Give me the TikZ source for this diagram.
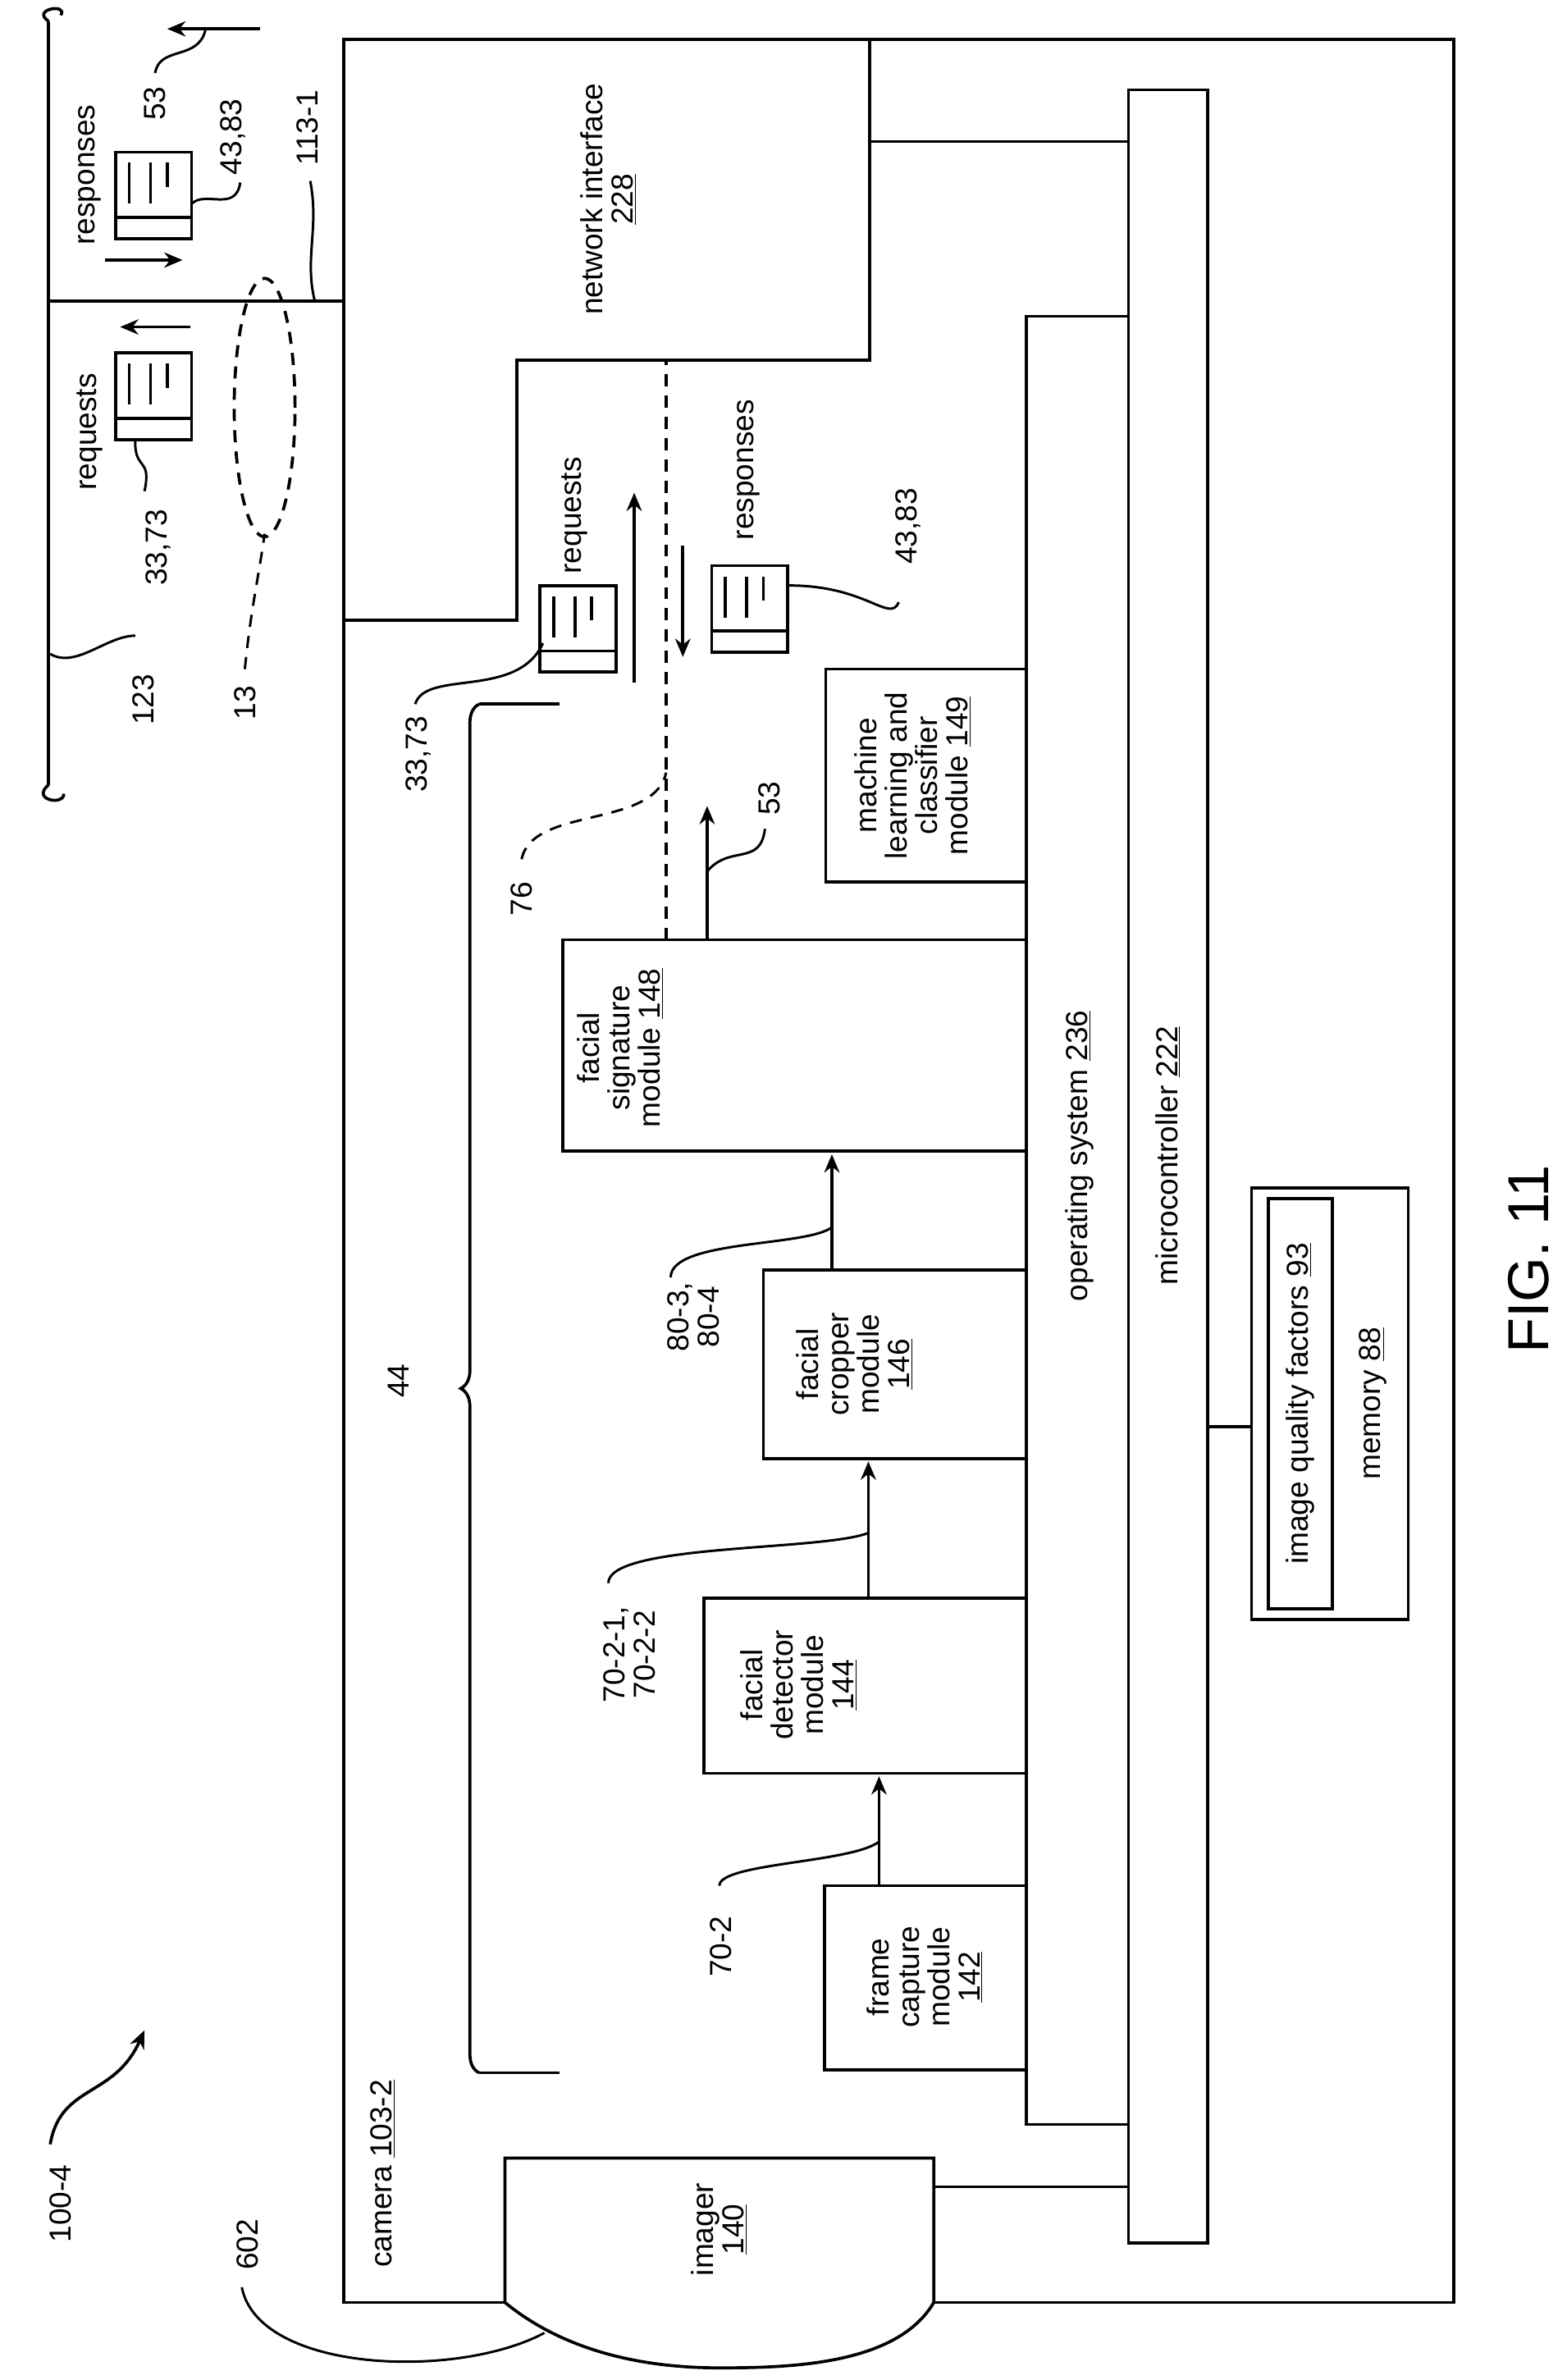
\documentclass[tikz,border=0pt]{standalone}
\usepackage{fontspec}
\setmainfont{Liberation Sans}
\usetikzlibrary{decorations.pathreplacing,shapes,arrows,arrows.meta,positioning}
\tikzset{
  every picture/.style={line width=2pt},
  lbl/.style={rotate=90,font=\fontsize{20}{20}\selectfont,align=center,inner sep=1pt},
  blk/.style={draw,fill=white},
  ar/.style={-{Stealth[length=12pt,width=10pt]}},
  lead/.style={line width=1.6pt},
  dsh/.style={dash pattern=on 8pt off 6pt}
}
% document icon: #1,#2 = top-left corner
\newcommand{\docicon}[2]{%
  \draw[fill=white] (#1,#2) rectangle ++(50,57);
  \draw (#1,#2+43) -- ++(50,0);
  \draw (#1+9,#2+7) -- ++(0,27) (#1+23,#2+7) -- ++(0,27) (#1+34,#2+7) -- ++(0,16);}
\begin{document}
\begin{tikzpicture}[x=1pt,y=-1pt]
\useasboundingbox (0,0) rectangle (1030,1565);
% camera frame
\draw (226,26) rectangle (956,1514);
\node[lbl,anchor=south west] (cam) at (262,1493) {camera \underline{103-2}};
% network interface
\draw (572,26) -- (572,237) -- (340,237) -- (340,408) -- (226,408);
\node[lbl] (ni) at (400,131) {network interface\\\underline{228}};
% bars
\draw[blk] (742,59) rectangle (794,1475);
\node[lbl] (mc) at (768,760) {microcontroller \underline{222}};
\draw[blk] (675,208) rectangle (742,1397);
\node[lbl] (os) at (710,760) {operating system \underline{236}};
\draw (572,93) -- (742,93);
% modules
\draw[blk] (542,1240) rectangle (675,1361);
\node[lbl] (fc) at (608,1300) {frame\\capture\\module\\\underline{142}};
\draw[blk] (463,1051) rectangle (675,1166);
\node[lbl] (fd) at (525,1108) {facial\\detector\\module\\\underline{144}};
\draw[blk] (502,835) rectangle (675,959);
\node[lbl] (fcr) at (562,897) {facial\\cropper\\module\\\underline{146}};
\draw[blk] (370,618) rectangle (675,757);
\node[lbl] (fs) at (408,689) {facial\\signature\\module \underline{148}};
\draw[blk] (543,440) rectangle (675,580);
\node[lbl] (ml) at (600,510) {machine\\learning and\\classifier\\module \underline{149}};
% memory
\draw (823,781) rectangle (926,1065);
\draw (834,788) rectangle (876,1058);
\node[lbl] (iq) at (855,923) {image quality factors \underline{93}};
\node[lbl] (mem) at (903,923) {memory \underline{88}};
\draw (794,938) -- (823,938);
% imager
\draw[fill=white] (332,1514) -- (332,1419) -- (614,1419) -- (614,1514) .. controls (590,1555) and (520,1557) .. (473,1557) .. controls (420,1557) and (370,1545) .. (332,1514);
\node[lbl] (im) at (473,1466) {imager\\\underline{140}};
\draw (614,1438) -- (742,1438);
% flow arrows
\draw[ar] (578,1240) -- (578,1168);
\draw[ar] (571,1051) -- (571,961);
\draw[ar] (547,835) -- (547,759);
\node[lbl] (l702) at (474,1280) {70-2};
\draw[lead] (473,1240) .. controls (473,1225) and (560,1225) .. (578,1211);
\node[lbl] (l7021) at (414,1088) {70-2-1,\\70-2-2};
\draw[lead] (400,1041) .. controls (400,1015) and (540,1020) .. (571,1008);
\node[lbl] (l803) at (456,866) {80-3,\\80-4};
\draw[lead] (441,840) .. controls (441,815) and (530,820) .. (547,807);
% dashed 76 and 53
\draw[dsh] (438,618) -- (438,237);
\node[lbl] (l76) at (343,591) {76};
\draw[lead,dsh] (343,565) .. controls (350,530) and (430,545) .. (438,508);
\draw[ar] (465,618) -- (465,530);
\node[lbl] (l53) at (506,525) {53};
\draw[lead] (465,573) .. controls (480,555) and (500,570) .. (503,545);
% requests / responses inside
\docicon{355}{385}
\node[lbl] (lrq) at (378,339) {requests};
\draw[ar] (417,449) -- (417,324);
\docicon{468}{372}
\node[lbl] (lrs) at (492,309) {responses};
\draw[ar] (449,359) -- (449,432);
\node[lbl] (l4383) at (597,346) {43,83};
\draw[lead] (519,385) .. controls (570,385) and (585,410) .. (591,396);
\node[lbl] (l3373) at (275,496) {33,73};
\draw[lead] (273,463) .. controls (280,440) and (340,460) .. (357,423);
% brace 44
\draw (368,463) -- (315,463);
\draw (368,1363) -- (315,1363);
\draw[decorate,decoration={brace,amplitude=12pt,aspect=0.5}] (315,1363) -- (315,463);
\node[lbl] (l44) at (262,908) {44};
% external network
\draw (32,14) -- (32,516);
\draw (32,14) .. controls (20,6) and (45,2) .. (40,10);
\draw (32,516) .. controls (20,526) and (42,530) .. (42,522);
\draw (32,198) -- (226,198);
\draw[ar] (171,19) -- (110,19);
\node[lbl] (l53e) at (102,68) {53};
\draw[lead] (102,48) .. controls (105,30) and (130,40) .. (135,20);
\docicon{76}{100}
\node[lbl] (lrse) at (59,115) {responses};
\draw[ar] (69,171) -- (120,171);
\node[lbl] (l4383e) at (153,90) {43,83};
\draw[lead] (158,120) .. controls (155,140) and (135,125) .. (126,134);
\node[lbl] (l1131) at (202,84) {113-1};
\draw[lead] (204,119) .. controls (210,150) and (200,170) .. (207,198);
\docicon{76}{232}
\node[lbl] (lrqe) at (59,284) {requests};
\draw[ar] (125,215) -- (79,215);
\node[lbl] (l3373e) at (104,360) {33,73};
\draw[lead] (95,323) .. controls (100,300) and (88,310) .. (89,289);
\draw[dsh] (174,268) ellipse (20pt and 85pt);
\node[lbl] (l123) at (94,460) {123};
\draw[lead] (89,418) .. controls (70,418) and (50,440) .. (33,430);
\node[lbl] (l13) at (161,462) {13};
\draw[lead,dsh] (161,440) .. controls (165,400) and (170,380) .. (174,351);
% labels 100-4, 602
\node[lbl] (l1004) at (40,1449) {100-4};
\draw[ar] (33,1410) .. controls (40,1370) and (75,1380) .. (95,1335);
\node[lbl] (l602) at (163,1476) {602};
\draw[lead] (159,1504) .. controls (170,1560) and (300,1565) .. (358,1534);
% figure label
\node[rotate=90,font=\fontsize{38}{44}\selectfont] (fig) at (1005,828) {FIG. 11};
\end{tikzpicture}
\end{document}
